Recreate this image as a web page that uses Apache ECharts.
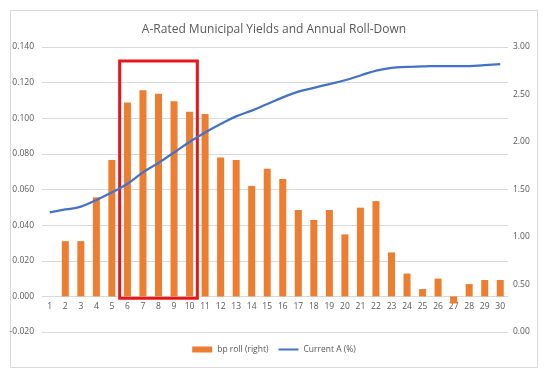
<!DOCTYPE html>
<html><head><meta charset="utf-8">
<script src="https://cdn.jsdelivr.net/npm/echarts@6/dist/echarts.min.js"></script>
<style>html,body{margin:0;padding:0;background:#fff}#c{width:548px;height:374px}</style>
</head><body><div id="c"></div>
<script>
const categories = ['1','2','3','4','5','6','7','8','9','10','11','12','13','14','15','16','17','18','19','20','21','22','23','24','25','26','27','28','29','30'];
const bpRoll = [null,0.031,0.031,0.0556,0.0766,0.1088,0.1157,0.1137,0.1095,0.1037,0.1024,0.0779,0.0766,0.062,0.0717,0.0659,0.0485,0.0429,0.0485,0.0348,0.0498,0.0535,0.0247,0.0128,0.0041,0.010,-0.004,0.0069,0.0092,0.0092];
const currentA = [1.26,1.29,1.32,1.39,1.47,1.56,1.68,1.78,1.89,2.00,2.10,2.19,2.27,2.33,2.40,2.47,2.53,2.57,2.61,2.65,2.70,2.75,2.78,2.79,2.795,2.80,2.80,2.80,2.81,2.82];
const highlightFrom = '6', highlightTo = '10', highlightTop = 0.1322, highlightBottom = -0.001;
const titleText = 'A-Rated Municipal Yields and Annual Roll-Down';
const legendNames = ['bp roll (right)','Current A (%)'];
const leftMin = -0.02, leftMax = 0.14;

const chart = echarts.init(document.getElementById('c'), null, {renderer:'canvas'});
const txt = '#595959', grid = '#d9d9d9', font = 'Open Sans';
const gridTop = 47, gridBottom = 42, gridH = 374 - gridTop - gridBottom;
const zeroOffset = -gridH * (0 - leftMin) / (leftMax - leftMin);
chart.setOption({
  animation:false,
  textStyle:{fontFamily:font},
  graphic:[{type:'rect',shape:{x:10.5,y:10.5,width:527,height:357},style:{fill:'none',stroke:'#d9d9d9',lineWidth:1},silent:true}],
  title:{text:titleText,left:'center',top:19,textStyle:{fontFamily:font,fontSize:12,fontWeight:'normal',color:txt}},
  legend:{bottom:15,left:'center',itemGap:10,itemWidth:20,itemHeight:6,textStyle:{fontFamily:font,fontSize:8.5,color:txt},
    data:[{name:legendNames[0],icon:'path://M0,0h20v6h-20z'},{name:legendNames[1],icon:'path://M0,2h20v2h-20z'}]},
  grid:{left:42,right:40,top:gridTop,bottom:gridBottom,containLabel:false},
  xAxis:{type:'category',data:categories,offset:zeroOffset,axisLine:{onZero:false,lineStyle:{color:grid}},axisTick:{show:false},
    axisLabel:{color:txt,fontSize:8.5,margin:6}},
  yAxis:[
    {type:'value',min:leftMin,max:leftMax,interval:0.02,axisLabel:{color:txt,fontSize:8.5,margin:8,formatter:v=>v.toFixed(3)},
     splitLine:{lineStyle:{color:grid}},axisLine:{show:false,onZero:false},axisTick:{show:false}},
    {type:'value',min:0,max:3,interval:0.5,position:'right',axisLabel:{color:txt,fontSize:8.5,margin:5,formatter:v=>v.toFixed(2)},
     splitLine:{show:false},axisLine:{show:false,onZero:false},axisTick:{show:false}}
  ],
  series:[
    {name:legendNames[0],type:'bar',yAxisIndex:0,data:bpRoll,barWidth:7,itemStyle:{color:'#ED7D31'},
     markArea:{silent:true,itemStyle:{color:'rgba(0,0,0,0)',borderColor:'#E8161B',borderWidth:3},
       data:[[{xAxis:highlightFrom,yAxis:highlightTop},{xAxis:highlightTo,yAxis:highlightBottom}]]}},
    {name:legendNames[1],type:'line',yAxisIndex:1,data:currentA,smooth:true,symbol:'none',lineStyle:{color:'#4472C4',width:2.25},itemStyle:{color:'#4472C4'}}
  ]
});
</script></body></html>
